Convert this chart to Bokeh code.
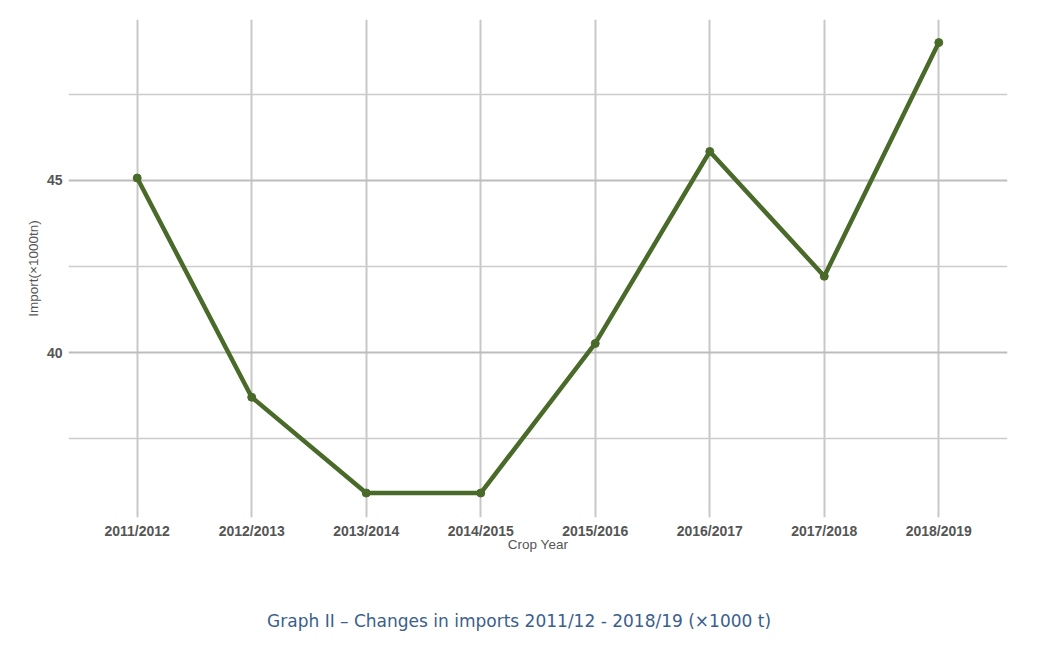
from bokeh.plotting import figure
from bokeh.models import Range1d, FixedTicker, LinearAxis
from bokeh.embed import file_html
from bokeh.resources import INLINE

# ---- data ----
crop_years = ["2011/2012", "2012/2013", "2013/2014", "2014/2015",
              "2015/2016", "2016/2017", "2017/2018", "2018/2019"]
imports_k_tn = [45.07, 38.71, 35.93, 35.93, 40.27, 45.84, 42.22, 49.0]
y_major_ticks = [40, 45]
y_minor_ticks = [37.5, 42.5, 47.5]
x_title = "Crop Year"
y_title = "Import(\u00d71000tn)"
caption = "Graph II \u2013 Changes in imports 2011/12 - 2018/19 (\u00d71000 t)"

xs = list(range(len(crop_years)))

p = figure(width=1036, height=660, output_backend="svg", toolbar_location=None,
           x_range=Range1d(-0.6, len(crop_years) - 1 + 0.6),
           y_range=Range1d(35.22, 49.67),
           min_border_left=68, min_border_right=29, min_border_top=19,
           min_border_bottom=143)
p.outline_line_color = None
p.background_fill_color = "white"
p.border_fill_color = "white"

# axes
p.xaxis.ticker = FixedTicker(ticks=xs)
p.xaxis.major_label_overrides = {i: c for i, c in enumerate(crop_years)}
p.yaxis.ticker = FixedTicker(ticks=y_major_ticks, minor_ticks=y_minor_ticks)
for ax in (p.xaxis, p.yaxis):
    ax.axis_line_color = None
    ax.major_tick_line_color = None
    ax.minor_tick_line_color = None
    ax.major_tick_out = 0
    ax.minor_tick_out = 0
    ax.major_label_text_font = "Liberation Sans"
    ax.major_label_text_font_style = "bold"
    ax.major_label_text_font_size = "14px"
    ax.major_label_text_color = "#555555"
    ax.axis_label_text_font = "Liberation Sans"
    ax.axis_label_text_font_style = "normal"
    ax.axis_label_text_color = "#555555"
p.xaxis.major_label_standoff = 5
p.yaxis.major_label_standoff = 6
p.xaxis.axis_label = x_title
p.xaxis.axis_label_text_font_size = "13.5px"
p.xaxis.axis_label_standoff = -5
p.yaxis.axis_label = y_title
p.yaxis.axis_label_text_font_size = "13.5px"
p.yaxis.axis_label_standoff = 3

# grids
p.xgrid.grid_line_color = "#c8c8c8"
p.xgrid.grid_line_width = 2
p.ygrid.grid_line_color = "#bdbdbd"
p.ygrid.grid_line_width = 2
p.ygrid.minor_grid_line_color = "#cccccc"
p.ygrid.minor_grid_line_width = 1.5

# series
p.line(xs, imports_k_tn, line_color="#4a6a2a", line_width=4.5)
p.scatter(xs, imports_k_tn, size=8, fill_color="#4a6a2a", line_color="#4a6a2a")

# caption below the chart (label of a tick-less axis); trailing no-break
# spaces shift the centred caption slightly left, as in the reference
cap_axis = LinearAxis(ticker=FixedTicker(ticks=[]), axis_line_color=None,
                      major_tick_out=0, minor_tick_out=0,
                      major_tick_line_color=None, minor_tick_line_color=None,
                      major_label_standoff=0,
                      axis_label=caption + "\u00a0" * 7,
                      axis_label_standoff=56,
                      axis_label_text_font="DejaVu Sans",
                      axis_label_text_font_size="17px",
                      axis_label_text_font_style="normal",
                      axis_label_text_color="#3b5e8c")
p.add_layout(cap_axis, "below")

open("out.html", "w").write(file_html(p, INLINE))
